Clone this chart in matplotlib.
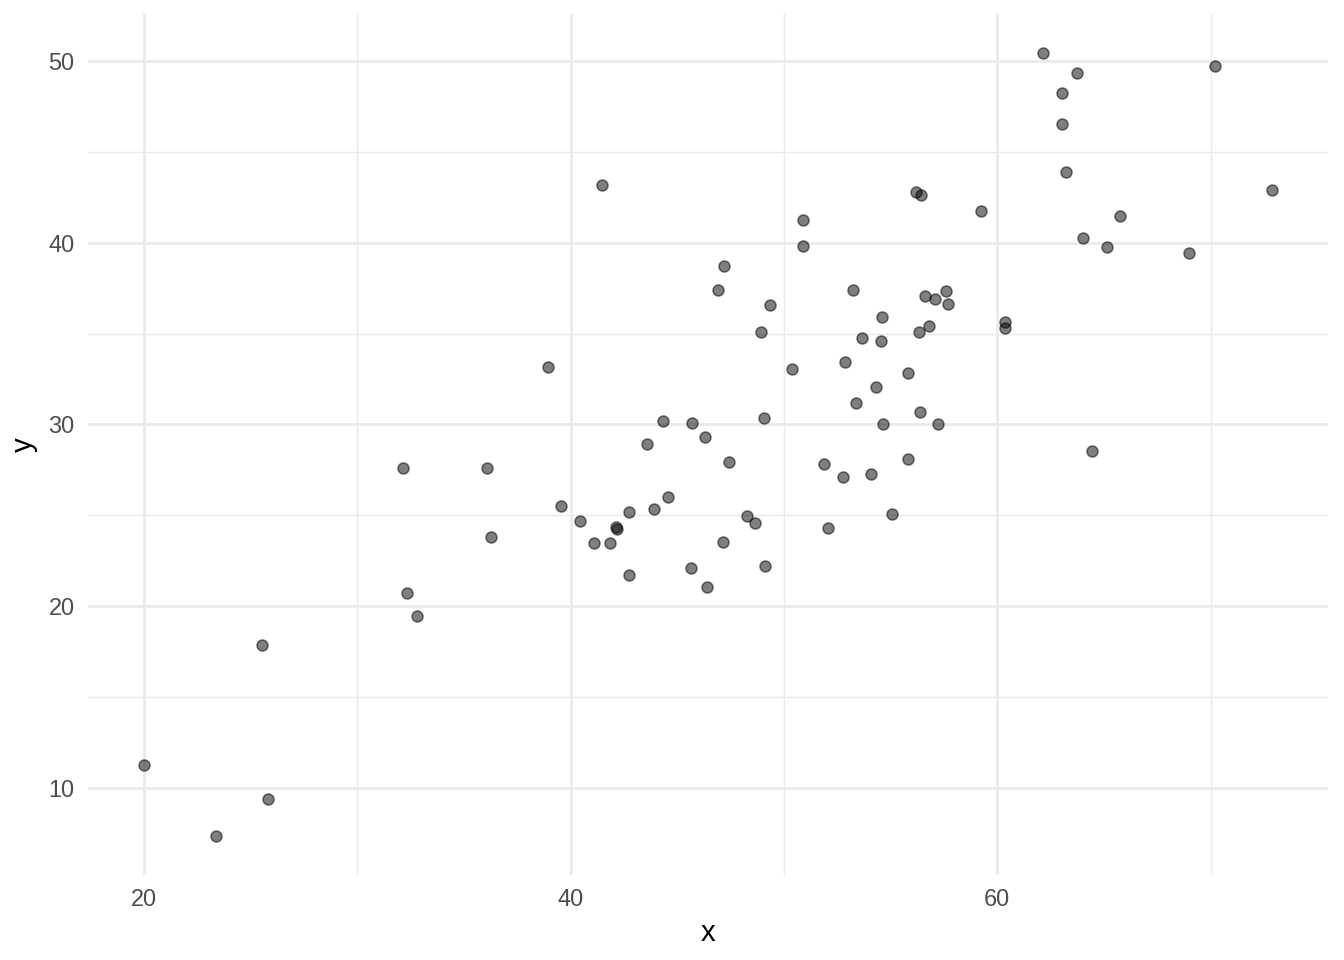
import matplotlib
matplotlib.use('Agg')
import matplotlib.pyplot as plt
from matplotlib.ticker import FixedLocator

plt.rcParams['font.family'] = ['Liberation Sans', 'DejaVu Sans']

# values
x = [20.0, 23.38, 25.53, 25.81, 32.14, 32.33, 32.80, 36.08, 36.27, 38.94,
     39.55, 40.44, 41.10, 41.47, 41.85, 42.13, 42.15, 42.74, 42.74, 43.58,
     43.91, 44.33, 44.57, 45.64, 45.69, 46.30, 46.39, 46.91, 47.14, 47.19,
     47.43, 48.27, 48.64, 48.93, 49.07, 49.11, 49.35, 50.38, 50.89, 50.89,
     51.88, 52.07, 52.77, 52.86, 53.24, 53.38, 53.66, 54.08, 54.32, 54.55,
     54.60, 54.65, 55.07, 55.82, 55.82, 56.19, 56.43, 56.33, 56.38, 56.61,
     56.80, 57.08, 57.22, 57.60, 57.69, 59.24, 60.36, 60.36, 62.15, 63.04,
     63.04, 63.22, 63.74, 64.02, 64.44, 65.15, 65.76, 68.99, 70.21, 72.88]
y = [11.27, 7.36, 17.87, 9.39, 27.61, 20.73, 19.46, 27.61, 23.81, 33.16,
     25.52, 24.69, 23.48, 43.18, 23.48, 24.36, 24.25, 25.19, 21.72, 28.93,
     25.35, 30.19, 26.01, 22.10, 30.08, 29.31, 21.06, 37.40, 23.53, 38.72,
     27.94, 24.97, 24.58, 35.09, 30.36, 22.21, 36.58, 33.05, 41.25, 39.82,
     27.83, 24.31, 27.11, 33.44, 37.40, 31.18, 34.76, 27.28, 32.06, 34.59,
     35.91, 30.03, 25.08, 32.83, 28.10, 42.79, 42.63, 35.09, 30.69, 37.07,
     35.42, 36.91, 30.03, 37.35, 36.63, 41.75, 35.64, 35.31, 50.44, 48.24,
     46.53, 43.89, 49.34, 40.26, 28.54, 39.77, 41.47, 39.44, 49.72, 42.90]

xmajor = [20, 40, 60]
xminor = [30, 50, 70]
ymajor = [10, 20, 30, 40, 50]
yminor = [15, 25, 35, 45]

fig = plt.figure(figsize=(7, 5), dpi=192)
ax = fig.add_axes([0.0652, 0.0886, 0.9232, 0.897])

ax.scatter(x, y, s=17, color='black', alpha=0.5, linewidths=0.6, zorder=3)

xr = max(x) - min(x)
yr = max(y) - min(y)
ax.set_xlim(min(x) - 0.05 * xr, max(x) + 0.05 * xr)
ax.set_ylim(min(y) - 0.05 * yr, max(y) + 0.05 * yr)

ax.xaxis.set_major_locator(FixedLocator(xmajor))
ax.xaxis.set_minor_locator(FixedLocator(xminor))
ax.yaxis.set_major_locator(FixedLocator(ymajor))
ax.yaxis.set_minor_locator(FixedLocator(yminor))

ax.grid(True, which='major', color='#EBEBEB', linewidth=1.07)
ax.grid(True, which='minor', color='#EBEBEB', linewidth=0.53)
ax.set_axisbelow(True)

for s in ax.spines.values():
  s.set_visible(False)
ax.tick_params(which='both', length=0)
ax.tick_params(axis='x', pad=5.0, labelsize=8.8, labelcolor='#4D4D4D')
ax.tick_params(axis='y', pad=4.9, labelsize=8.8, labelcolor='#4D4D4D')

ax.set_xlabel('x', fontsize=11, labelpad=3)
ax.set_ylabel('y', fontsize=11, labelpad=4)

fig.savefig('out.png', dpi=192, facecolor='white')
